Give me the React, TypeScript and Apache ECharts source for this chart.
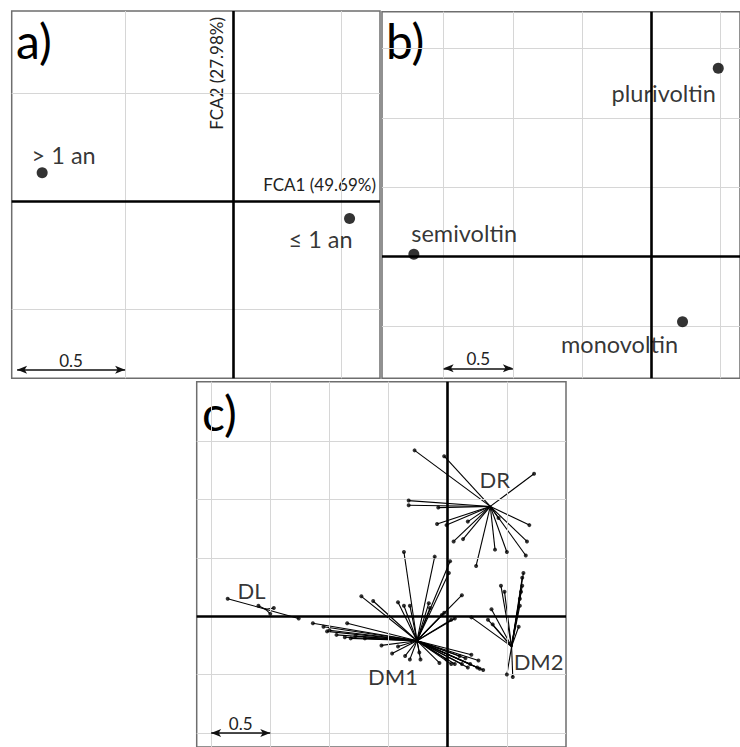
import React, { useEffect, useRef } from "react";
import * as echarts from "echarts";

// ---------- data ----------
const panelANames = ["> 1 an", "≤ 1 an"];
const panelAX = [-0.884, 0.539];
const panelAY = [0.131, -0.08];
const panelATitles = ["FCA1 (49.69%)", "FCA2 (27.98%)"];

const panelBNames = ["plurivoltin", "semivoltin", "monovoltin"];
const panelBX = [0.483, -1.715, 0.225];
const panelBY = [1.357, 0.017, -0.468];

const classNames = ["DL", "DM1", "DM2", "DR"];
const classCentroidX = [-1.54, -0.26, 0.54, 0.36];
const classCentroidY = [0.06, -0.21, -0.26, 0.94];

const dlX = [-1.86, -1.6, -1.47, -1.5, -1.26];
const dlY = [0.15, 0.09, 0.07, 0.02, -0.02];

const dm1X = [
  -0.37, -0.11, 0.02, 0.01, 0.12,
  -0.73, -0.63, -0.42, -0.37, -0.32, -0.16, -0.15, -0.05, 0.03, 0.06, -0.03,
  -1.14, -1.05, -1.02, -0.94, -0.85, -0.87, -0.82, -0.78, -0.7, -1.0, -0.56,
  -0.47, -0.42, -0.36, -0.32, -0.24, -0.23, -0.07, -0.01, 0.03,
  0.06, 0.1, 0.12, 0.15, 0.17, 0.19, 0.2, 0.25, 0.26, 0.27, 0.3,
];
const dm1Y = [
  0.55, 0.51, 0.47, 0.37, 0.18,
  0.17, 0.13, 0.12, 0.09, 0.09, 0.11, 0.07, 0.01, -0.03, -0.02, 0.03,
  -0.06, -0.09, -0.13, -0.16, -0.06, -0.18, -0.19, -0.17, -0.19, -0.12, -0.25,
  -0.32, -0.26, -0.34, -0.37, -0.31, -0.37, -0.4, -0.37, -0.41,
  -0.41, -0.34, -0.41, -0.36, -0.44, -0.41, -0.33, -0.44, -0.38, -0.45, -0.46,
];

const dm2X = [0.64, 0.63, 0.63, 0.62, 0.61, 0.61, 0.45, 0.48, 0.37, 0.2, 0.34, 0.38, 0.6, 0.5, 0.55];
const dm2Y = [0.37, 0.33, 0.26, 0.21, 0.15, 0.09, 0.26, 0.21, 0.06, -0.01, -0.03, -0.07, -0.09, -0.5, -0.52];

const drX = [-0.28, -0.03, 0.73, -0.33, -0.33, -0.08, -0.09, -0.01, 0.17, 0.05, 0.13, 0.24, 0.4, 0.5, 0.66, 0.67, 0.69, 0.43];
const drY = [1.42, 1.37, 1.22, 0.99, 0.95, 0.93, 0.79, 0.78, 0.81, 0.64, 0.66, 0.43, 0.57, 0.55, 0.52, 0.64, 0.78, 0.84];

const gridStep = 0.5;
const scaleLabel = "0.5";
const panelLetters = ["a)", "b)", "c)"];

// ---------- layout ----------
const FONT = 'Lato, "Open Sans", sans-serif';
const panels = [
  { left: 11.7, top: 11, width: 368.3, height: 367.3, x: [-1.025, 0.68], y: [-0.82, 0.88], bar: [-1.0, -0.78] },
  { left: 382, top: 11.7, width: 360, height: 366.6, x: [-1.945, 0.64], y: [-0.876, 1.765], bar: [-1.5, -0.804] },
  { left: 196.7, top: 381.7, width: 369.3, height: 370, x: [-2.122, 1.0], y: [-1.12, 2.008], bar: [-2.0, -1.0] },
];
const labelOffsetsA = [[21.5, -17.5], [-29, 20.5]];
const labelOffsetsB = [[-54.5, 25], [50.3, -21], [-63, 22.5]];
const classLabelOffsets = [[-14, -19], [-24, 35.5], [27, 15], [4.5, -26.5]];

function ticksIn(min: number, max: number, step: number, margin: number) {
  const out: number[] = [];
  for (let v = Math.ceil(min / step) * step; v <= max + 1e-9; v += step) {
    const r = Math.round(v * 1000) / 1000;
    if (r - min > margin && max - r > margin && Math.abs(r) > 1e-9) out.push(r);
  }
  return out;
}

function buildOption() {
  const grid = panels.map((p) => ({
    left: p.left,
    top: p.top,
    width: p.width,
    height: p.height,
    show: true,
    borderColor: "#6e6e6e",
    borderWidth: 1.5,
    containLabel: false,
  }));
  const hidden = { show: false };
  const xAxis = panels.map((p, i) => ({
    type: "value", gridIndex: i, min: p.x[0], max: p.x[1],
    axisLine: hidden, axisTick: hidden, axisLabel: hidden, splitLine: hidden,
  }));
  const yAxis = panels.map((p, i) => ({
    type: "value", gridIndex: i, min: p.y[0], max: p.y[1],
    axisLine: hidden, axisTick: hidden, axisLabel: hidden, splitLine: hidden,
  }));

  const series: any[] = [];
  panels.forEach((p, i) => {
    const xt = ticksIn(p.x[0], p.x[1], gridStep, 0.03);
    const yt = ticksIn(p.y[0], p.y[1], gridStep, 0.03);
    series.push({
      type: "scatter", xAxisIndex: i, yAxisIndex: i, data: [], z: 1, silent: true,
      markLine: {
        silent: true, symbol: "none", label: { show: false },
        lineStyle: { color: "#d6d6d6", width: 1, type: "solid" },
        data: [...xt.map((v) => ({ xAxis: v })), ...yt.map((v) => ({ yAxis: v }))],
      },
    });
    series.push({
      type: "scatter", xAxisIndex: i, yAxisIndex: i, data: [], z: 2, silent: true,
      markLine: {
        silent: true, symbol: "none", label: { show: false },
        lineStyle: { color: "#000", width: 2.6, type: "solid" },
        data: [{ xAxis: 0 }, { yAxis: 0 }],
      },
    });
    series.push({
      type: "scatter", xAxisIndex: i, yAxisIndex: i, data: [], z: 3, silent: true,
      markLine: {
        silent: true, symbol: ["arrow", "arrow"], symbolSize: [6, 10],
        label: { show: true, position: "middle", formatter: scaleLabel, fontSize: 17, fontFamily: FONT, color: "#222", distance: 1 },
        lineStyle: { color: "#111", width: 1.5, type: "solid" },
        data: [[{ coord: [p.bar[0], p.bar[1]] }, { coord: [p.bar[0] + gridStep, p.bar[1]] }]],
      },
    });
  });

  const pointLabel = { show: true, position: "inside", formatter: "{b}", fontSize: 23.5, fontFamily: FONT, color: "#000" };
  series.push({
    type: "scatter", xAxisIndex: 0, yAxisIndex: 0, z: 5, symbolSize: 11,
    itemStyle: { color: "#000" },
    data: panelANames.map((n, k) => ({ name: n, value: [panelAX[k], panelAY[k]], label: { ...pointLabel, offset: labelOffsetsA[k] } })),
  });
  series.push({
    type: "scatter", xAxisIndex: 1, yAxisIndex: 1, z: 5, symbolSize: 11,
    itemStyle: { color: "#000" },
    data: panelBNames.map((n, k) => ({ name: n, value: [panelBX[k], panelBY[k]], label: { ...pointLabel, offset: labelOffsetsB[k] } })),
  });

  const groupsX = [dlX, dm1X, dm2X, drX];
  const groupsY = [dlY, dm1Y, dm2Y, drY];
  const segs: any[] = [];
  const pts: any[] = [];
  groupsX.forEach((gx, g) => {
    gx.forEach((xv, k) => {
      const yv = groupsY[g][k];
      segs.push({ coords: [[classCentroidX[g], classCentroidY[g]], [xv, yv]] });
      pts.push([xv, yv]);
    });
  });
  series.push({
    type: "lines", coordinateSystem: "cartesian2d", xAxisIndex: 2, yAxisIndex: 2, z: 4, silent: true,
    lineStyle: { color: "#000", width: 1.1, opacity: 1 },
    data: segs,
  });
  series.push({
    type: "scatter", xAxisIndex: 2, yAxisIndex: 2, z: 5, symbolSize: 4, silent: true,
    itemStyle: { color: "#000" },
    data: pts,
  });
  series.push({
    type: "scatter", xAxisIndex: 2, yAxisIndex: 2, z: 6, symbolSize: 2,
    itemStyle: { color: "#000" },
    data: classNames.map((n, k) => ({
      name: n, value: [classCentroidX[k], classCentroidY[k]],
      label: { ...pointLabel, fontSize: 22, offset: classLabelOffsets[k] },
    })),
  });

  const graphic: any[] = [
    { type: "text", x: 16, y: 40, style: { text: panelLetters[0], font: `48px ${FONT}`, fill: "#000", textVerticalAlign: "middle" } },
    { type: "text", x: 386, y: 40, style: { text: panelLetters[1], font: `48px ${FONT}`, fill: "#000", textVerticalAlign: "middle" } },
    { type: "text", x: 202, y: 412, style: { text: panelLetters[2], font: `48px ${FONT}`, fill: "#000", textVerticalAlign: "middle" } },
    { type: "text", x: 376, y: 184, style: { text: panelATitles[0], font: `17px ${FONT}`, fill: "#222", textAlign: "right", textVerticalAlign: "middle" } },
    { type: "text", x: 216, y: 17, rotation: Math.PI / 2, style: { text: panelATitles[1], font: `17px ${FONT}`, fill: "#222", textAlign: "right", textVerticalAlign: "middle" } },
  ];

  return { animation: false, backgroundColor: "#fff", grid, xAxis, yAxis, series, graphic };
}

export default function App() {
  const ref = useRef<HTMLDivElement>(null);
  useEffect(() => {
    if (!ref.current) return;
    const chart = echarts.init(ref.current, undefined, { renderer: "svg" });
    chart.setOption(buildOption() as any);
    return () => chart.dispose();
  }, []);
  return (
    <div
      ref={ref}
      style={{ position: "absolute", left: 0, top: 0, width: 740, height: 747, background: "#fff" }}
    />
  );
}
